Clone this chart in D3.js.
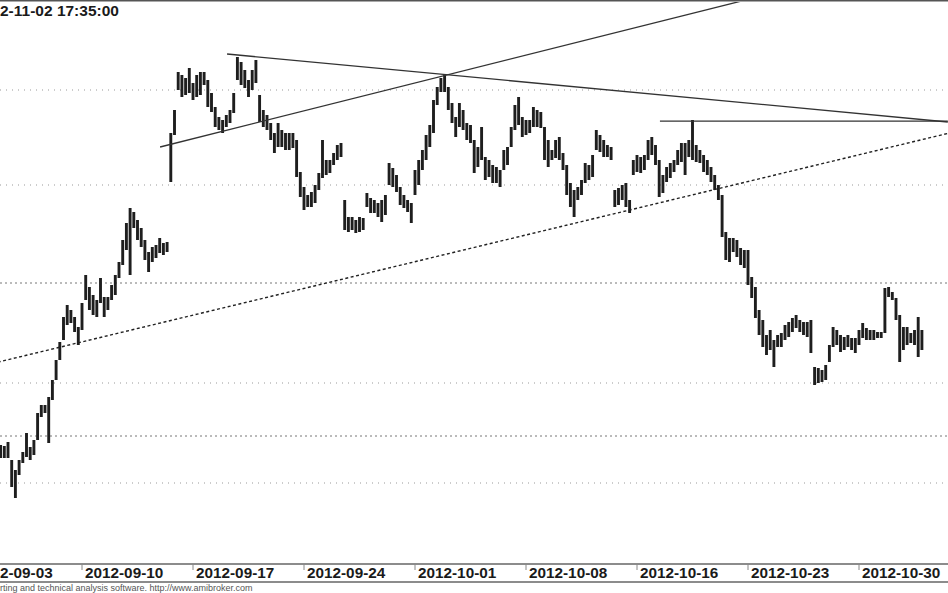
<!DOCTYPE html>
<html><head><meta charset="utf-8">
<script src="https://cdn.jsdelivr.net/npm/d3@7"></script>
<style>html,body{margin:0;padding:0;background:#fff;overflow:hidden}</style>
</head><body>
<svg id="c" width="948" height="593"></svg>
<script>
const title = "2-11-02 17:35:00";
const footer = "rting and technical analysis software. http://www.amibroker.com";
const firstBar = 8;
const highs = [2272.5,2272,2274,2265,2260,2265,2269,2278.5,2271.5,2275,
2288.5,2292.5,2292.5,2296.5,2305,2315,2324,2336.5,2342.5,2340,
2336.5,2331.5,2343.5,2357.5,2351.5,2347.5,2345,2356,2346.5,2346.5,
2352.5,2357.5,2364,2375,2383.5,2391,2389,2385,2381,2375,
2369,2371.5,2372.5,2376,2373.5,2374,2428.5,2440,2459,2457.5,
2456,2461,2453.5,2457.5,2459,2459,2455,2448.5,2441.5,2436.5,
2435,2437.5,2440,2448.5,2466.5,2464,2460,2455,2460,2465,
2447.5,2440,2437.5,2433.5,2428.5,2433.5,2430,2428.5,2428.5,2428.5,
2425,2409,2401.5,2397.5,2399,2402.5,2408.5,2425,2415,2415,
2418.5,2422.5,2423.5,2395,2386.5,2386.5,2385,2386.5,2386,2398.5,
2396,2395,2393.5,2395,2397.5,2413.5,2411,2407.5,2401.5,2397.5,
2395,2393.5,2410,2415,2420,2427.5,2432.5,2445,2451.5,2456,
2457.5,2451.5,2443.5,2436.5,2443.5,2440,2433.5,2432.5,2425,2421.5,
2431.5,2416.5,2415,2412.5,2411.5,2410,2420,2421.5,2431.5,2442.5,
2446.5,2436.5,2435,2435,2441.5,2440,2439,2431.5,2425,2420,
2425,2426.5,2418.5,2412.5,2403.5,2400,2401.5,2405,2413.5,2412.5,
2417.5,2430,2427.5,2425,2422.5,2421.5,2400,2401,2402.5,2403.5,
2395,2415,2417.5,2416.5,2417.5,2425,2426.5,2422.5,2415,2407.5,
2411.5,2413.5,2415,2420,2423.5,2423.5,2425,2435,2422.5,2420,
2417.5,2415,2411.5,2407.5,2402.5,2397.5,2379,2376,2376,2375,
2371,2370,2370,2356.5,2351.5,2340,2335,2327.5,2330,2325,
2327.5,2328.5,2332.5,2334,2336,2337.5,2335,2334,2334,2335,
2311.5,2311,2310,2312.5,2322.5,2331.5,2330,2327.5,2326.5,2327.5,
2326,2326,2330,2333.5,2331,2330,2330,2329,2329,2351,
2351.5,2349,2346,2337.5,2331.5,2331.5,2328.5,2330,2336.5,2330];
const lows = [2266,2266,2266,2251.5,2246,2257.5,2263.5,2266.5,2265,2267.5,
2275,2286.5,2288.5,2273.5,2295,2305,2315,2325,2332.5,2333.5,
2329,2322.5,2330,2345,2340,2337.5,2336.5,2343.5,2336.5,2340,
2345,2347.5,2356,2362.5,2370,2357.5,2381,2375,2371.5,2365,
2359,2364,2366,2368.5,2367.5,2369,2404,2427.5,2450,2446.5,
2447.5,2448.5,2445,2446.5,2447.5,2452.5,2441.5,2439,2431.5,2430,
2428.5,2431.5,2433.5,2438.5,2455,2452.5,2451,2446.5,2450,2453.5,
2434,2431.5,2430,2425,2418.5,2421.5,2421.5,2420,2420,2421,
2406.5,2396.5,2390,2391.5,2391.5,2393.5,2400,2406,2407.5,2408.5,
2412.5,2415,2416.5,2380,2379,2380,2378.5,2379,2380,2391.5,
2388.5,2388.5,2386.5,2384,2387.5,2402.5,2401.5,2399,2392.5,2391,
2389,2383.5,2397.5,2402.5,2410,2415,2421.5,2428.5,2442.5,2449,
2449,2440,2433.5,2426.5,2431.5,2430,2425,2423.5,2408.5,2411.5,
2415,2405,2406.5,2403.5,2403.5,2401.5,2410,2412.5,2421.5,2430,
2432.5,2426.5,2427.5,2428.5,2431.5,2431.5,2431,2415,2411.5,2415,
2416,2415,2410,2397.5,2391.5,2386.5,2395,2397.5,2403.5,2405,
2406.5,2420,2419,2416.5,2416.5,2415,2391.5,2392.5,2395,2391.5,
2388.5,2407.5,2409,2408.5,2410,2415,2417.5,2412.5,2396.5,2398.5,
2404,2406,2409,2412.5,2414,2407.5,2416.5,2415,2414,2413.5,
2409,2407.5,2404,2400,2395,2376.5,2365,2364,2369,2366.5,
2362.5,2361,2352.5,2346,2336,2327.5,2321.5,2317.5,2320,2311.5,
2321.5,2321.5,2325,2326.5,2329,2331,2329,2327.5,2326.5,2318.5,
2302.5,2303.5,2304,2305,2314,2321.5,2322.5,2319,2320,2321.5,
2320,2318.5,2322.5,2326,2325,2325,2325,2326,2326,2328.5,
2346.5,2345,2335,2314,2320,2322.5,2323.5,2322.5,2316.5,2320];
const tickBars = [0,30,60,90,120,150,180,210,240];
const tickLabels = ["2-09-03","2012-09-10","2012-09-17","2012-09-24","2012-10-01","2012-10-08","2012-10-16","2012-10-23","2012-10-30"];
const gridDotted = [2450,2402.5,2303.5,2253.5];
const gridDashed = [2353.5,2277];
const trendSolid = [[51.1,2421.5,210,2495.3],[69.2,2468,264,2434],[186.2,2434.4,264,2434.4]];
const trendDashed = [[0,2310.7,264,2428.3]];

const W = 948, H = 593;
const svg = d3.select("#c");
const x = d3.scaleLinear().domain([0,240]).range([-29,859]);
const y = d3.scaleLinear().domain([2250,2450]).range([490,90]);

svg.append("defs").append("clipPath").attr("id","plot")
  .append("rect").attr("x",0).attr("y",2).attr("width",W).attr("height",560);

svg.append("rect").attr("x",0).attr("y",0).attr("width",W).attr("height",1.5).attr("fill","#555");

const font = "'Liberation Sans', Arial, sans-serif";
svg.append("text").attr("x",0).attr("y",16).attr("font-family",font).attr("font-size",15.5)
  .attr("font-weight","bold").attr("fill","#1a1a1a").text(title);

const plot = svg.append("g").attr("clip-path","url(#plot)");

plot.selectAll("line.gd").data(gridDotted).join("line").attr("class","gd")
  .attr("x1",0).attr("x2",W).attr("y1",d=>y(d)).attr("y2",d=>y(d))
  .attr("stroke","#999").attr("stroke-width",1).attr("stroke-dasharray","1,5");
plot.selectAll("line.gm").data(gridDashed).join("line").attr("class","gm")
  .attr("x1",0).attr("x2",W).attr("y1",d=>y(d)).attr("y2",d=>y(d))
  .attr("stroke","#777").attr("stroke-width",1).attr("stroke-dasharray","2,3");

const bars = highs.map((h,j)=>({i:firstBar+j,h:h,l:lows[j]}));
plot.selectAll("line.bar").data(bars).join("line").attr("class","bar")
  .attr("x1",d=>x(d.i)).attr("x2",d=>x(d.i))
  .attr("y1",d=>y(d.h)).attr("y2",d=>y(d.l))
  .attr("stroke","#1e1e1e").attr("stroke-width",2.9);

plot.selectAll("line.ts").data(trendSolid).join("line").attr("class","ts")
  .attr("x1",d=>x(d[0])).attr("y1",d=>y(d[1])).attr("x2",d=>x(d[2])).attr("y2",d=>y(d[3]))
  .attr("stroke","#333").attr("stroke-width",1.3);
plot.selectAll("line.td").data(trendDashed).join("line").attr("class","td")
  .attr("x1",d=>x(d[0])).attr("y1",d=>y(d[1])).attr("x2",d=>x(d[2])).attr("y2",d=>y(d[3]))
  .attr("stroke","#222").attr("stroke-width",1.4).attr("stroke-dasharray","3,2.5");

svg.append("line").attr("x1",0).attr("x2",W).attr("y1",564).attr("y2",564).attr("stroke","#666").attr("stroke-width",1.3);
svg.append("line").attr("x1",0).attr("x2",W).attr("y1",582).attr("y2",582).attr("stroke","#666").attr("stroke-width",1.3);
const ax = svg.append("g");
ax.selectAll("line").data(tickBars.slice(1)).join("line")
  .attr("x1",d=>x(d)).attr("x2",d=>x(d)).attr("y1",564).attr("y2",570).attr("stroke","#888");
ax.selectAll("text").data(tickBars).join("text")
  .attr("x",(d,k)=>k===0?0:x(d)+3).attr("y",578).attr("font-family",font).attr("font-size",15.3)
  .attr("font-weight","bold").attr("fill","#1a1a1a").text((d,k)=>tickLabels[k]);

svg.append("text").attr("x",0).attr("y",591).attr("font-family",font).attr("font-size",9)
  .attr("fill","#555").text(footer);
</script>
</body></html>
